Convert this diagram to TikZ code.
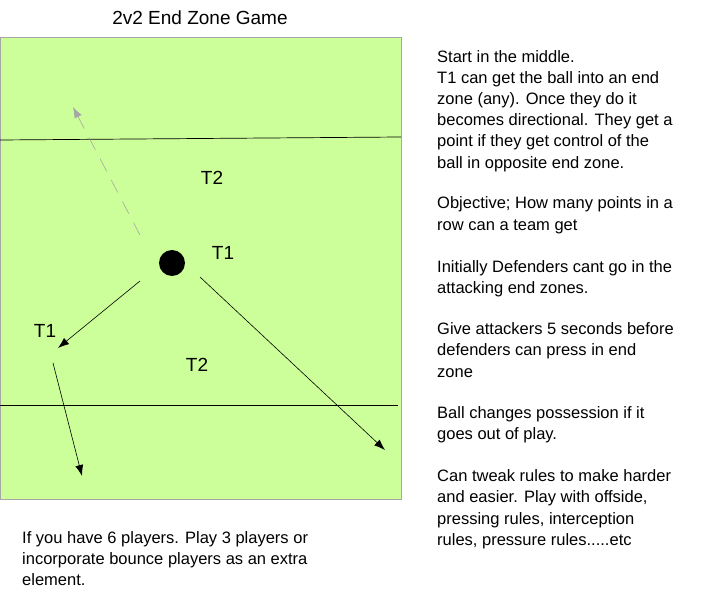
\documentclass[tikz,border=0pt]{standalone}
\usepackage{fontspec}
\setmainfont{Liberation Sans}
\usetikzlibrary{arrows.meta}
\begin{document}
\begin{tikzpicture}[x=1pt,y=-1pt,
  txt/.style={inner sep=0pt,align=left,font=\fontsize{16.5}{21.2}\selectfont},
  arr/.style={-{Latex[length=11pt,width=8pt]},black,line width=0.6pt},
  lbl/.style={inner sep=0pt,font=\fontsize{19}{22}\selectfont}]
\useasboundingbox (0,0) rectangle (718,609);
\node[draw=gray!70, fill={rgb,255:red,204;green,255;blue,153}, minimum width=401pt, minimum height=462pt, anchor=north west, inner sep=0pt, line width=1pt] (field) at (0,37) {};
\coordinate (l1a) at (0,140); \coordinate (l1b) at (401,137);
\coordinate (l2a) at (0,405); \coordinate (l2b) at (398,405);
\draw[line width=0.7pt] (l1a) -- (l1b);
\draw[line width=0.7pt] (l2a) -- (l2b);
\node[lbl] (title) at (200,18) {2v2 End Zone Game};
\node[circle, fill=black, minimum size=26pt, inner sep=0pt] (ball) at (172,263) {};
\node[lbl] (t2a) at (212,178) {T2};
\node[lbl] (t1a) at (223,253) {T1};
\node[lbl] (t1b) at (45,331) {T1};
\node[lbl] (t2b) at (197,365) {T2};
\coordinate (d0) at (140,235); \coordinate (d1) at (73,107);
\coordinate (a0) at (140,281); \coordinate (a1) at (58,348);
\coordinate (b0) at (200,277); \coordinate (b1) at (385,450);
\coordinate (c0) at (53,363); \coordinate (c1) at (82,476);
\draw[arr, gray!70, dash pattern=on 14pt off 10pt] (d0) -- (d1);
\draw[arr] (a0) -- (a1);
\draw[arr] (b0) -- (b1);
\draw[arr] (c0) -- (c1);
\node[txt, anchor=north west] (notes) at (437,50) {Start in the middle.\\
T1 can get the ball into an end\\
zone (any). Once they do it\\
becomes directional. They get a\\
point if they get control of the\\
ball in opposite end zone.\\[19.5pt]
Objective; How many points in a\\
row can a team get\\[21pt]
Initially Defenders cant go in the\\
attacking end zones.\\[20pt]
Give attackers 5 seconds before\\
defenders can press in end\\
zone\\[20pt]
Ball changes possession if it\\
goes out of play.\\[21pt]
Can tweak rules to make harder\\
and easier. Play with offside,\\
pressing rules, interception\\
rules, pressure rules.....etc};
\node[txt, anchor=north west] (bottom) at (22,531) {If you have 6 players. Play 3 players or\\
incorporate bounce players as an extra\\
element.};
\end{tikzpicture}
\end{document}
